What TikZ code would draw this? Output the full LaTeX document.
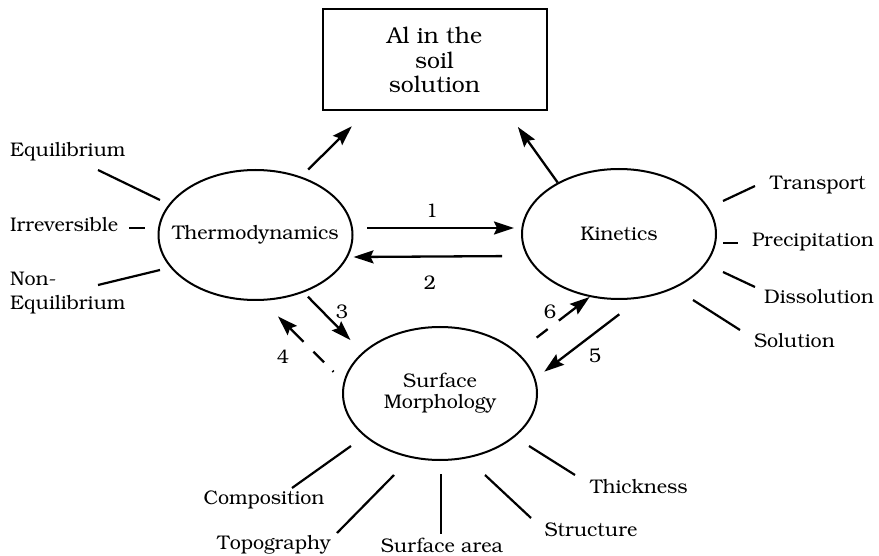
\documentclass[tikz,border=0pt]{standalone}
\usepackage[T1]{fontenc}
\usepackage{bookman}
\usetikzlibrary{arrows.meta,shapes.geometric,calc}
\tikzset{
  every picture/.style={line width=2pt, font=\fontsize{19.7}{24}\selectfont},
  blob/.style={draw, ellipse, inner ysep=0pt, inner xsep=-20pt, minimum width=194pt, minimum height=130pt, align=center, font=\fontsize{19.7}{21}\selectfont},
  target/.style={draw, rectangle, inner sep=0pt, minimum width=224pt, minimum height=101pt, align=center, font=\fontsize{23}{24.5}\selectfont},
  flow/.style={-{Stealth[length=20pt,width=13pt,inset=3pt]}, line width=2.3pt},
  faint/.style={flow, dash pattern=on 1.5pt off 12pt on 15pt off 14pt on 300pt off 0pt},
  faintb/.style={flow, dash pattern=on 14pt off 14pt on 300pt off 0pt},
  spoke/.style={line width=2.2pt},
  lbl/.style={inner sep=0pt, align=left},
  num/.style={inner sep=1pt},
}
\begin{document}
\begin{tikzpicture}[x=1pt, y=-1pt]
  % units are the pixels of the figure, y running downwards
  \useasboundingbox (0,0) rectangle (879,556);
  \node[target] (al) at (434.5,60) {Al in the\\soil\\solution};
  \node[blob] (thermo) at (255.5,235) {Thermodynamics};
  \node[blob] (kin) at (619,234) {Kinetics};
  \node[blob, minimum height=133pt] (surf) at (440,393.5) {Surface\\Morphology};
  % into the solution
  \draw[flow, shorten <=10pt, shorten >=21pt] (thermo.52) -- ($(al.south west)!0.2!(al.south east)$);
  \draw[flow, shorten >=19pt] (kin.140) -- ($(al.south west)!0.82!(al.south east)$);
  % between the three processes
  \draw[flow, shorten <=13.5pt, shorten >=7pt] ([yshift=7pt]thermo.east) -- ([yshift=6pt]kin.west);
  \draw[flow, shorten <=19pt] ([yshift=-22pt]kin.west) -- ([yshift=-22pt]thermo.east);
  \draw[flow, shorten <=6pt, shorten >=17pt] (thermo.-50) -- (surf.152);
  \draw[faint, shorten <=14pt, shorten >=22pt] (surf.173) -- (thermo.-84);
  \draw[flow, shorten <=26pt, shorten >=11pt] (kin.-72) -- (surf.9);
  \draw[faintb, shorten <=24pt] (surf.28) -- (kin.-115);
  \node[num] (n1) at (432,211) {1};
  \node[num] (n2) at (430,283) {2};
  \node[num] (n3) at (342,312) {3};
  \node[num] (n4) at (283,357) {4};
  \node[num] (n5) at (595,356) {5};
  \node[num] (n6) at (550,312) {6};
  % what each process covers
  \node[lbl, anchor=west] (eq) at (9,152) {Equilibrium};
  \node[lbl, anchor=west] (irr) at (9,225) {Irreversible};
  \node[lbl, anchor=west] (noneq) at (9,293) {Non-\\Equilibrium};
  \node[lbl, anchor=west] (trans) at (769,185) {Transport};
  \node[lbl, anchor=west] (precip) at (751,242) {Precipitation};
  \node[lbl, anchor=west] (diss) at (763,297) {Dissolution};
  \node[lbl, anchor=west] (soln) at (753,341) {Solution};
  \node[lbl] (comp) at (264,500) {Composition};
  \node[lbl] (topo) at (274,545) {Topography};
  \node[lbl] (area) at (442,545) {Surface area};
  \node[lbl] (struct) at (591,530) {Structure};
  \node[lbl] (thick) at (639,487) {Thickness};
  \foreach \xa/\ya/\xb/\yb in {98/170/160/200, 129/228/145/228, 98/285/160/270,
      723/201/755/186, 723/243/738/243, 723/272/755/287, 693/300/740/330,
      351/446/292/488, 394/475/337/533, 441/474/441/534, 485/475/531/518, 529/446/575/475}
    \draw[spoke] (\xa,\ya) -- (\xb,\yb);
\end{tikzpicture}
\end{document}
